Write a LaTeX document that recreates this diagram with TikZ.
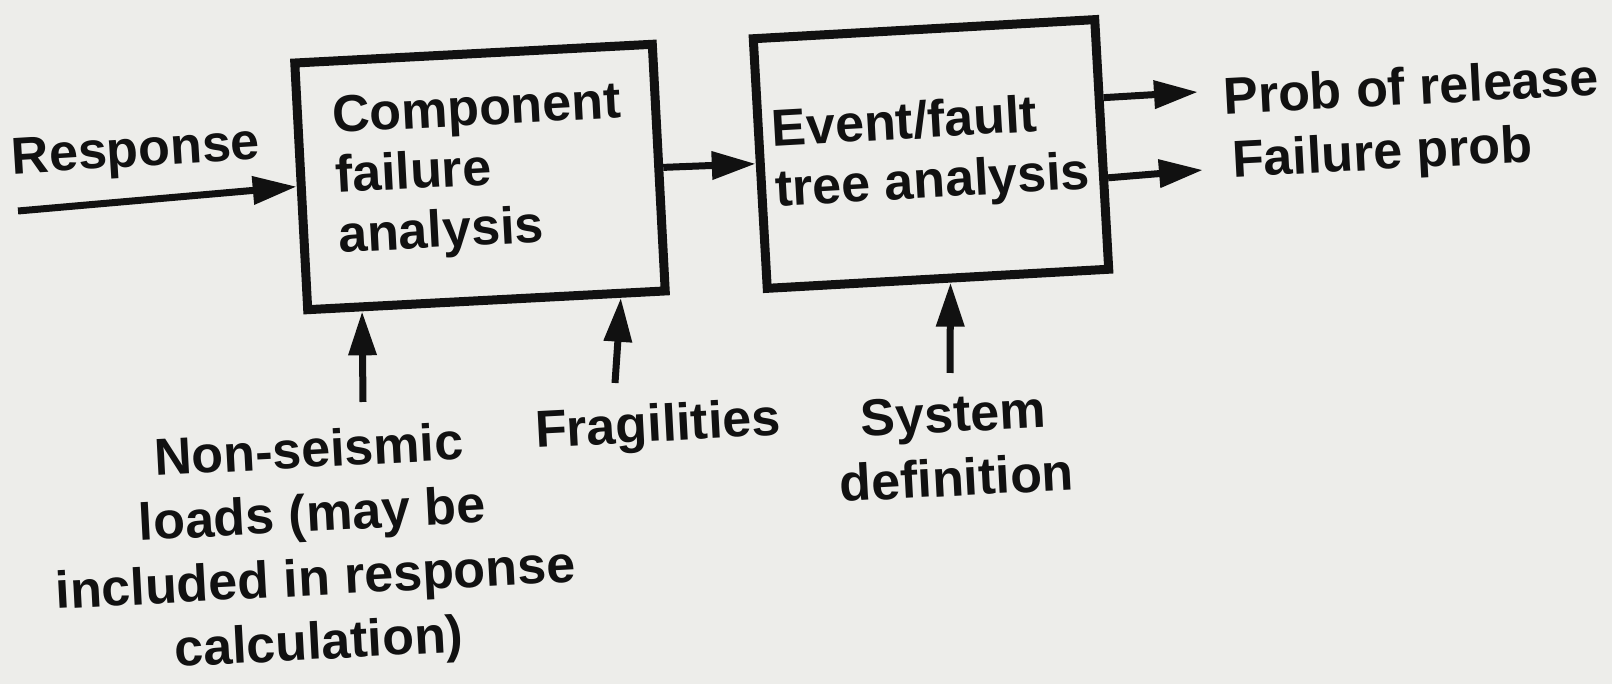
\documentclass[tikz,border=0pt]{standalone}
\usepackage{fontspec}
\setmainfont{Liberation Sans}
\usetikzlibrary{arrows.meta,calc}
\definecolor{paper}{HTML}{EDEDEA}
\definecolor{ink}{HTML}{111111}
\begin{document}
\begin{tikzpicture}[x=0.5pt,y=0.5pt,
  lbl/.style={font=\bfseries\fontsize{26}{30}\selectfont, text=ink, inner sep=0pt},
  wide/.style={font=\bfseries\fontsize{26}{32}\selectfont},
  blk/.style={lbl, draw=ink, line width=4.5pt, align=left},
  arr/.style={draw=ink, line width=3.5pt, -{Triangle[length=22pt,width=13.5pt]}}]
\fill[paper] (0,0) rectangle (1612,684);
\useasboundingbox (0,0) rectangle (1612,684);

% process blocks
\node[blk, minimum width=179pt, minimum height=123.5pt, rotate=3] (b1) at (480,507)
  {Component\\failure\\analysis\rule[-10pt]{0pt}{10pt}};
\node[blk, minimum width=171pt, minimum height=125pt, rotate=3.2] (b2) at (931,530)
  {Event/fault\\tree analysis};

% input and output labels
\node[lbl, rotate=3.5] (resp) at (136,530) {Response};
\node[lbl, rotate=3, anchor=west] (rel) at (1223,588) {Prob of release};
\node[lbl, rotate=3, anchor=west] (fail) at (1232,520) {Failure prob};
\node[lbl, wide, rotate=3, align=center] (nonseis) at (314,134)
  {Non-seismic\\loads (may be\\included in response\\calculation)};
\node[lbl, rotate=3] (frag) at (658,256) {Fragilities};
\node[lbl, wide, rotate=3, align=center] (sysdef) at (955,238) {System\\definition};

% free ends of the connectors
\coordinate (rs) at (18,473);
\coordinate (o1) at (1198,592);
\coordinate (o2) at (1203,514);
\coordinate (u1) at (363,282);
\coordinate (u2) at (615,301);
\coordinate (u3) at (950,311);

% connectors
\draw[arr] (rs) -- (b1.west);
\draw[arr] (b1.east) -- (b2.west);
\draw[arr] ($(b2.north east)!0.32!(b2.south east)$) -- (o1);
\draw[arr] ($(b2.north east)!0.63!(b2.south east)$) -- (o2);
\draw[arr] (u1) -- ($(b1.south west)!0.16!(b1.south east)$);
\draw[arr] (u2) -- ($(b1.south west)!0.866!(b1.south east)$);
\draw[arr] (u3) -- ($(b2.south west)!0.535!(b2.south east)$);
\end{tikzpicture}
\end{document}
